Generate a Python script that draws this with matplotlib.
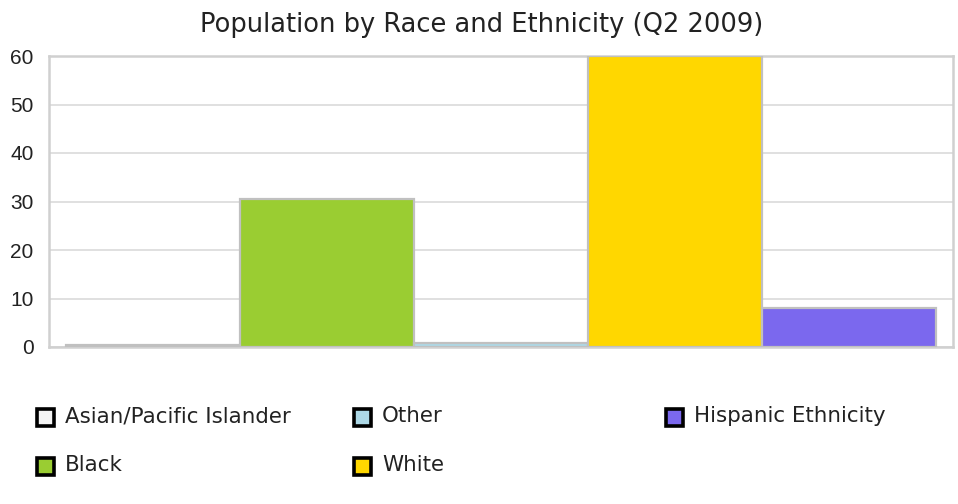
import matplotlib
matplotlib.use("Agg")
import matplotlib.pyplot as plt
from matplotlib.patches import Rectangle

categories = ["Asian/Pacific Islander", "Black", "Other", "White", "Hispanic Ethnicity"]
values = [0.4, 30.5, 0.8, 60.0, 8.0]
colors = ["#f4f4f4", "#9acd32", "#add8e6", "#ffd700", "#7b68ee"]
yticks = [0, 10, 20, 30, 40, 50, 60]
title = "Population by Race and Ethnicity (Q2 2009)"

plt.rcParams['font.family'] = ['DejaVu Sans']

W, H = 958, 504
fig = plt.figure(figsize=(W / 100, H / 100), dpi=100)
ax = fig.add_axes([49 / W, 1 - 347 / H, (953 - 49) / W, (347 - 56) / H])

x = list(range(len(categories)))
ax.bar(x, values, width=1.0, color=colors, edgecolor="#c0c0c0", linewidth=1.6, zorder=3)

ax.set_ylim(0, 60)
ax.set_xlim(-0.5 - 0.098, len(categories) - 0.5 + 0.098)
ax.set_yticks(yticks)
ax.set_yticklabels([str(t) for t in yticks], fontsize=15, color="#222222",
                   family=['Liberation Sans', 'DejaVu Sans'])
ax.set_xticks([])
ax.tick_params(axis="y", length=0, pad=11)
ax.grid(axis="y", color="#e0e0e0", linewidth=1.4, zorder=0)
for s in ax.spines.values():
    s.set_color("#d0d0d0")
    s.set_linewidth(1.8)

fig.text(482 / W, 1 - 25 / H, title, ha="center", va="center", fontsize=18.5, color="#222222")

# legend laid out as a 3-column grid, filled column-wise
col_x = [35, 352, 664]
row_y = [417, 466]
ms = 17
for i, (lab, c) in enumerate(zip(categories, colors)):
    col, row = i // 2, i % 2
    px, py = col_x[col], row_y[row]
    fig.patches.append(Rectangle(((px + 1.5) / W, 1 - (py + ms / 2) / H), ms / W, ms / H,
                                 transform=fig.transFigure, facecolor=c,
                                 edgecolor="black", linewidth=2.6))
    fig.text((px + 30) / W, 1 - (py - 1) / H, lab, ha="left", va="center",
             fontsize=15.4, color="#222222")

fig.savefig("out.png", dpi=100)
